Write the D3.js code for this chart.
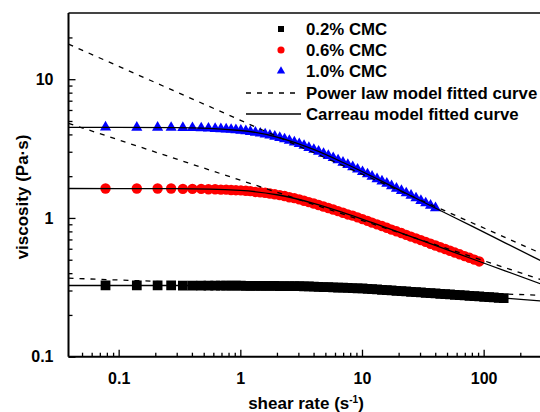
<!DOCTYPE html>
<html>
<head>
<meta charset="utf-8">
<script src="https://cdn.jsdelivr.net/npm/d3@7"></script>
<style>
  body { margin: 0; background: #fff; }
  svg { display: block; font-family: "Liberation Sans", Arial, sans-serif; font-weight: bold; }
</style>
</head>
<body>
<div id="chart"></div>
<script>
//============ data =========//
// shear rate (1/s) of the measured points
var shearRate = [0.078, 0.141, 0.209, 0.27, 0.337, 0.404, 0.477, 0.547, 0.621, 0.692, 0.765,
  0.84, 0.92, 1.01, 1.11, 1.21, 1.33, 1.46, 1.6, 1.75, 1.92, 2.11, 2.31, 2.53, 2.78, 3.05, 3.34,
  3.66, 4.02, 4.4, 4.83, 5.29, 5.8, 6.36, 6.98, 7.65, 8.39, 9.2, 10.1, 11.1, 12.1, 13.3, 14.6,
  16.0, 17.5, 19.2, 21.1, 23.1, 25.3, 27.8, 30.5, 33.4, 36.6, 40.2, 44.0, 48.3, 52.9, 58.0,
  63.6, 69.8, 76.5, 83.9, 92.0, 101, 111, 121, 133, 146];

// viscosity (Pa.s), null = not measured
var cmc02 = [0.326, 0.326, 0.326, 0.326, 0.325, 0.325, 0.325, 0.325, 0.325, 0.325, 0.325,
  0.325, 0.325, 0.325, 0.324, 0.324, 0.324, 0.324, 0.324, 0.324, 0.324, 0.323, 0.323, 0.323,
  0.323, 0.323, 0.3218, 0.3208, 0.3199, 0.3189, 0.3179, 0.3169, 0.3161, 0.3151, 0.3142, 0.3132,
  0.3123, 0.3114, 0.3103, 0.3086, 0.3069, 0.3052, 0.3035, 0.3019, 0.3002, 0.2985, 0.2969,
  0.2953, 0.2937, 0.292, 0.2904, 0.2888, 0.2872, 0.2856, 0.284, 0.2825, 0.2809, 0.2794, 0.2778,
  0.2763, 0.2748, 0.2733, 0.2718, 0.2703, 0.2688, 0.2673, 0.2658, 0.2643];

var cmc06 = [1.63, 1.63, 1.63, 1.63, 1.62, 1.62, 1.62, 1.61, 1.61, 1.60, 1.60,
  1.59, 1.585, 1.58, 1.57, 1.56, 1.54, 1.53, 1.52, 1.50, 1.48, 1.46, 1.44, 1.41, 1.39, 1.36,
  1.33, 1.30, 1.27, 1.24, 1.21, 1.18, 1.15, 1.12, 1.09, 1.06, 1.04, 1.01, 0.98, 0.952, 0.925,
  0.899, 0.874, 0.849, 0.824, 0.801, 0.778, 0.755, 0.734, 0.712, 0.692, 0.672, 0.652, 0.633,
  0.615, 0.597, 0.580, 0.563, 0.547, 0.531, 0.516, 0.501, 0.486, null, null, null, null, null];

var cmc10 = [4.50, 4.49, 4.49, 4.48, 4.47, 4.46, 4.44, 4.42, 4.40, 4.38, 4.36,
  4.33, 4.30, 4.27, 4.23, 4.18, 4.13, 4.07, 4.01, 3.94, 3.87, 3.79, 3.70, 3.61, 3.51, 3.42,
  3.32, 3.21, 3.11, 3.01, 2.91, 2.81, 2.71, 2.61, 2.51, 2.42, 2.33, 2.24, 2.15, 2.07, 1.99,
  1.91, 1.84, 1.77, 1.70, 1.63, 1.57, 1.51, 1.45, 1.39, 1.33, 1.28, 1.23, 1.18,
  null, null, null, null, null, null, null, null, null, null, null, null, null, null];

// fitted curves
var carreauRate = [0.0387, 0.3, 1, 2, 4, 7, 12, 20, 40, 80, 150, 300];
var carreau02 = [0.326, 0.326, 0.3247, 0.3233, 0.3199, 0.3141, 0.3071, 0.2979, 0.2857, 0.2741, 0.2638, 0.2518];
var carreau06 = [1.63, 1.625, 1.578, 1.470, 1.275, 1.093, 0.928, 0.791, 0.634, 0.508, 0.416, 0.333];
var carreau10 = [4.50, 4.48, 4.27, 3.83, 3.12, 2.51, 2.00, 1.60, 1.18, 0.873, 0.662, 0.488];

var powerRate = [0.0387, 300];
var power02 = [0.368, 0.277];
var power06 = [4.81, 0.358];
var power10 = [17.9, 0.553];

var seriesNames = ['0.2% CMC', '0.6% CMC', '1.0% CMC'];
var xMajor = [0.1, 1, 10, 100];
var xMinor = [0.05, 0.06, 0.07, 0.08, 0.09, 0.2, 0.3, 0.4, 0.5, 0.6, 0.7, 0.8, 0.9,
  2, 3, 4, 5, 6, 7, 8, 9, 20, 30, 40, 50, 60, 70, 80, 90, 200];
var yMajor = [0.1, 1, 10];
var yMinor = [0.2, 0.3, 0.4, 0.5, 0.6, 0.7, 0.8, 0.9, 2, 3, 4, 5, 6, 7, 8, 9, 20];

//============ layout =========//
var width = 540, height = 412;
var plotL = 68.5, plotT = 13, plotB = 356.7, plotR = 540;

var x = d3.scaleLog().domain([0.0387, 300]).range([plotL, 541.7]);
var y = d3.scaleLog().domain([0.1, 30]).range([plotB, plotT]);

var svg = d3.select('#chart').append('svg')
  .attr('width', width)
  .attr('height', height);

svg.append('defs').append('clipPath').attr('id', 'plotClip')
  .append('rect')
  .attr('x', plotL).attr('y', plotT)
  .attr('width', plotR - plotL).attr('height', plotB - plotT);

var plot = svg.append('g').attr('clip-path', 'url(#plotClip)');

function points(xs, ys) {
  return xs.map(function(v, i) { return {x: v, y: ys[i]}; })
    .filter(function(d) { return d.y != null; });
}

// markers
var markerSets = [
  {data: points(shearRate, cmc02), type: d3.symbolSquare, size: 95, color: '#000000'},
  {data: points(shearRate, cmc06), type: d3.symbolCircle, size: 85, color: '#ff0000'},
  {data: points(shearRate, cmc10), type: d3.symbolTriangle, size: 54, color: '#0000ff'}
];

markerSets.forEach(function(s) {
  plot.append('g').selectAll('path')
    .data(s.data)
    .enter().append('path')
    .attr('d', d3.symbol().type(s.type).size(s.size))
    .attr('transform', function(d) { return 'translate(' + x(d.x) + ',' + y(d.y) + ')'; })
    .style('fill', s.color);
});

// fitted lines
var line = d3.line()
  .x(function(d) { return x(d.x); })
  .y(function(d) { return y(d.y); });
var smooth = d3.line()
  .x(function(d) { return x(d.x); })
  .y(function(d) { return y(d.y); })
  .curve(d3.curveMonotoneX);

[carreau02, carreau06, carreau10].forEach(function(c) {
  plot.append('path')
    .attr('d', smooth(points(carreauRate, c)))
    .style('fill', 'none').style('stroke', '#000').style('stroke-width', 1.3);
});
[power02, power06, power10].forEach(function(p) {
  plot.append('path')
    .attr('d', line(points(powerRate, p)))
    .style('fill', 'none').style('stroke', '#000').style('stroke-width', 1.3)
    .style('stroke-dasharray', '5,6');
});

//============ axes =========//
function fmt(d) { return d >= 1 ? d3.format('d')(d) : d; }

function yAxis(values, len, labels) {
  var ax = d3.axisLeft(y).tickValues(values).tickSize(-len).tickPadding(len + 8)
    .tickFormat(labels ? fmt : '');
  var g = svg.append('g').attr('transform', 'translate(' + plotL + ',0)').call(ax);
  g.select('.domain').remove();
  g.selectAll('line').style('stroke', '#000').style('stroke-width', 1.3);
  g.selectAll('text').style('font-size', '16px').style('fill', '#000');
  g.attr('font-family', null);
}
function xAxis(values, len, labels) {
  var ax = d3.axisBottom(x).tickValues(values).tickSize(-len).tickPadding(len + 9)
    .tickFormat(labels ? fmt : '');
  var g = svg.append('g').attr('transform', 'translate(0,' + plotB + ')').call(ax);
  g.select('.domain').remove();
  g.selectAll('line').style('stroke', '#000').style('stroke-width', 1.3);
  g.selectAll('text').style('font-size', '16px').style('fill', '#000');
  g.attr('font-family', null);
}
yAxis(yMinor, 4, false);
yAxis(yMajor, 7, true);
xAxis(xMinor, 4, false);
xAxis(xMajor, 7, true);

// frame
svg.append('line').attr('x1', plotL).attr('x2', plotR).attr('y1', plotT).attr('y2', plotT)
  .style('stroke', '#444').style('stroke-width', 2);
svg.append('line').attr('x1', plotL).attr('x2', plotL).attr('y1', plotT).attr('y2', plotB)
  .style('stroke', '#000').style('stroke-width', 2);
svg.append('line').attr('x1', plotL).attr('x2', plotR).attr('y1', plotB).attr('y2', plotB)
  .style('stroke', '#000').style('stroke-width', 2);

// axis titles
var xt = svg.append('text')
  .attr('x', 306).attr('y', 408.5)
  .attr('text-anchor', 'middle')
  .style('font-size', '17px');
xt.append('tspan').text('shear rate (s');
xt.append('tspan').attr('dy', -6).style('font-size', '10px').text('-1');
xt.append('tspan').attr('dy', 6).text(')');

svg.append('text')
  .attr('transform', 'translate(28,197) rotate(-90)')
  .attr('text-anchor', 'middle')
  .style('font-size', '17px')
  .text('viscosity (Pa\u00b7s)');

//============ legend =========//
var legend = svg.append('g');
var rowY = [29, 50, 71, 93, 114];
markerSets.forEach(function(s, i) {
  var sz = [36, 40, 30][i];
  legend.append('path')
    .attr('d', d3.symbol().type(s.type).size(sz))
    .attr('transform', 'translate(281,' + rowY[i] + ')')
    .style('fill', s.color);
  legend.append('text').attr('x', 306).attr('y', rowY[i] + 6)
    .style('font-size', '16.8px').text(seriesNames[i]);
});
legend.append('line').attr('x1', 246).attr('x2', 301).attr('y1', rowY[3]).attr('y2', rowY[3])
  .style('stroke', '#000').style('stroke-width', 1.3).style('stroke-dasharray', '5,6');
legend.append('text').attr('x', 306).attr('y', rowY[3] + 6)
  .style('font-size', '16.8px').text('Power law model fitted curve');
legend.append('line').attr('x1', 246).attr('x2', 301).attr('y1', rowY[4]).attr('y2', rowY[4])
  .style('stroke', '#000').style('stroke-width', 1.3);
legend.append('text').attr('x', 306).attr('y', rowY[4] + 6)
  .style('font-size', '16.8px').text('Carreau model fitted curve');
</script>
</body>
</html>
